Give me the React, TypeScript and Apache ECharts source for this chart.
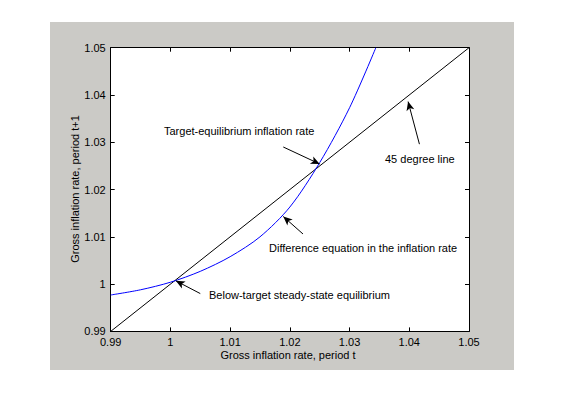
import React, { useEffect, useRef } from "react";
import * as echarts from "echarts";

const xTicks = [0.99, 1.0, 1.01, 1.02, 1.03, 1.04, 1.05];
const diagonalX = [0.99, 1.05];
const diagonalY = [0.99, 1.05];
const curveX = [0.99, 0.995, 1.0, 1.005, 1.01, 1.015, 1.02, 1.025, 1.03, 1.0344];
const curveY = [0.9977, 0.9988, 1.0004, 1.0027, 1.0058, 1.01, 1.0163, 1.0257, 1.0373, 1.05];
const arrowStartX = [1.0189, 1.0417, 1.0222, 1.005];
const arrowStartY = [1.029, 1.0296, 1.0106, 0.998];
const arrowEndX = [1.025, 1.0398, 1.0189, 1.0009];
const arrowEndY = [1.0254, 1.0386, 1.0143, 1.0007];
const annotationTexts = [
  "Target-equilibrium inflation rate",
  "45 degree line",
  "Difference equation in the inflation rate",
  "Below-target steady-state equilibrium",
];
const xLabel = "Gross inflation rate, period t";
const yLabel = "Gross inflation rate, period t+1";

export default function App() {
  const ref = useRef<HTMLDivElement>(null);
  useEffect(() => {
    if (!ref.current) return;
    const chart = echarts.init(ref.current, undefined, { renderer: "svg" });
    const font = "Liberation Sans, Arial, sans-serif";
    const textPos = [
      [164, 131],
      [385, 159],
      [269, 248],
      [209, 295],
    ];
    const axisCommon = {
      type: "value" as const,
      min: 0.99,
      max: 1.05,
      interval: 0.01,
      splitLine: { show: false },
      axisLine: { show: true, onZero: false, lineStyle: { color: "#000", width: 1 } },
      axisTick: { show: true, inside: true, length: 4, lineStyle: { color: "#000" } },
    };
    const fmt = (v: number) => {
      const s = v.toFixed(2);
      return s === "1.00" ? "1" : s;
    };
    chart.setOption({
      animation: false,
      backgroundColor: "#ffffff",
      graphic: [
        {
          type: "rect",
          z: -10,
          shape: { x: 50, y: 22, width: 464, height: 348 },
          style: { fill: "#cbcac6" },
          silent: true,
        },
        {
          type: "rect",
          z: -9,
          shape: { x: 110.7, y: 47.7, width: 358.3, height: 283.7 },
          style: { fill: "#ffffff" },
          silent: true,
        },
        ...annotationTexts.map((t, i) => ({
          type: "text",
          x: textPos[i][0],
          y: textPos[i][1],
          z: 10,
          style: {
            text: t,
            fill: "#000",
            font: `11px ${font}`,
            textVerticalAlign: "middle",
            textAlign: "left",
          },
        })),
        {
          type: "text",
          x: 288,
          y: 355,
          style: { text: xLabel, fill: "#000", font: `11px ${font}`, textAlign: "center", textVerticalAlign: "middle" },
        },
        {
          type: "text",
          x: 75,
          y: 189,
          rotation: Math.PI / 2,
          style: { text: yLabel, fill: "#000", font: `11px ${font}`, textAlign: "center", textVerticalAlign: "middle" },
        },
      ],
      grid: { left: 110.7, right: 98, top: 47.7, bottom: 65.6, containLabel: false },
      xAxis: [
        {
          ...axisCommon,
          position: "bottom",
          axisLabel: { color: "#000", fontSize: 11, fontFamily: font, margin: 5, formatter: fmt },
        },
        {
          ...axisCommon,
          position: "top",
          axisLabel: { show: false },
        },
      ],
      yAxis: [
        {
          ...axisCommon,
          position: "left",
          axisLabel: { color: "#000", fontSize: 11, fontFamily: font, margin: 5, formatter: fmt },
        },
        {
          ...axisCommon,
          position: "right",
          axisLabel: { show: false },
        },
      ],
      series: [
        {
          type: "line",
          data: diagonalX.map((x, i) => [x, diagonalY[i]]),
          showSymbol: false,
          symbol: "none",
          lineStyle: { color: "#000", width: 1 },
          silent: true,
          markLine: {
            silent: true,
            symbol: ["none", "arrow"],
            symbolSize: [6, 9],
            label: { show: false },
            lineStyle: { color: "#000", width: 1, type: "solid" },
            data: arrowStartX.map((x, i) => [
              { coord: [x, arrowStartY[i]] },
              { coord: [arrowEndX[i], arrowEndY[i]] },
            ]),
          },
        },
        {
          type: "line",
          data: curveX.map((x, i) => [x, curveY[i]]),
          smooth: 0.3,
          showSymbol: false,
          symbol: "none",
          lineStyle: { color: "#0000ff", width: 1 },
          silent: true,
        },
      ],
    });
    return () => chart.dispose();
  }, []);
  return (
    <div
      ref={ref}
      style={{ position: "fixed", left: 0, top: 0, width: 567, height: 397 }}
    />
  );
}
